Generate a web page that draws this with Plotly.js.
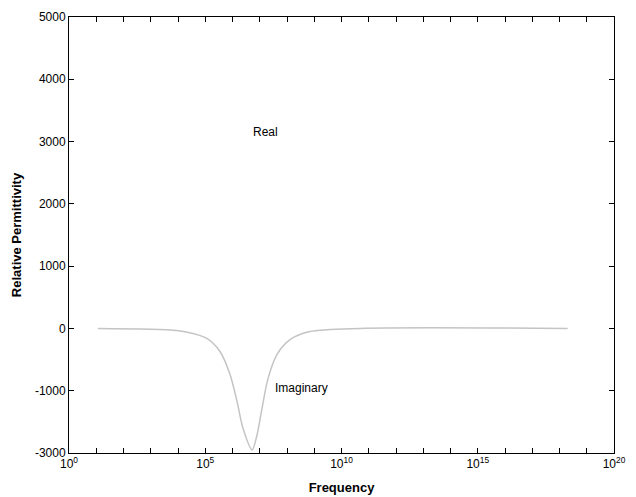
<!DOCTYPE html>
<html>
<head>
<meta charset="utf-8">
<script src="https://cdn.plot.ly/plotly-3.0.1.min.js"></script>
<style>html,body{margin:0;padding:0;background:#fff;}#chart{width:636px;height:497px;}</style>
</head>
<body>
<div id="chart"></div>
<script>
// Imaginary part: log10(frequency) and relative permittivity values
const logFreq = [1.06, 3.96, 4.55, 5.06, 5.54, 5.91, 6.17, 6.39, 6.72, 6.90, 7.08, 7.30, 7.63, 8.11, 8.84, 10.68, 18.3];
const imagPerm = [0, -32, -80, -160, -370, -740, -1180, -1610, -1950, -1710, -1290, -810, -420, -180, -50, 0, 0];

const xMajorExps = [0, 5, 10, 15, 20];
const xMajorLabels = ['10<sup>0</sup>', '10<sup>5</sup>', '10<sup>10</sup>', '10<sup>15</sup>', '10<sup>20</sup>'];
const xMinorExps = [1,2,3,4,6,7,8,9,11,12,13,14,16,17,18,19];
const yTickVals = [-2000,-1000,0,1000,2000,3000,4000,5000];
const yTickText = ['-3000','-1000','0','1000','2000','3000','4000','5000'];

const freq = logFreq.map(e => Math.pow(10, e));

const traces = [{
  x: freq, y: imagPerm, type: 'scatter', mode: 'lines',
  line: {color: '#c4c4c4', width: 1.5, shape: 'spline', smoothing: 0.8},
  name: 'Imaginary', hoverinfo: 'skip'
}];

const font = {family: 'Liberation Sans, Arial, sans-serif', size: 12, color: '#000'};
const titleFont = {family: 'Liberation Sans, Arial, sans-serif', size: 13, color: '#000', weight: 'bold'};

const layout = {
  width: 636, height: 497,
  margin: {l: 69, r: 22, t: 17, b: 44},
  paper_bgcolor: '#fff', plot_bgcolor: '#fff',
  showlegend: false,
  font: font,
  xaxis: {
    type: 'log', range: [0, 20],
    tickmode: 'array',
    tickvals: xMajorExps.map(e => Math.pow(10, e)),
    ticktext: xMajorLabels,
    ticks: 'inside', ticklen: 5, tickcolor: '#000',
    minor: {tickmode: 'array', tickvals: xMinorExps.map(e => Math.pow(10, e)), ticks: 'inside', ticklen: 5, tickcolor: '#000', showgrid: false},
    showline: true, linecolor: '#000', linewidth: 1, mirror: 'ticks',
    showgrid: false, zeroline: false, automargin: false,
    tickfont: font,
    title: {text: 'Frequency', font: titleFont, standoff: 12}
  },
  yaxis: {
    range: [-2000, 5000],
    tickmode: 'array', tickvals: yTickVals, ticktext: yTickText,
    ticks: 'inside', ticklen: 5, tickcolor: '#000',
    showline: true, linecolor: '#000', linewidth: 1, mirror: 'ticks',
    showgrid: false, zeroline: false, automargin: false,
    tickfont: font,
    title: {text: 'Relative Permittivity', font: titleFont, standoff: 10}
  },
  annotations: [
    {x: 7.2, y: 3150, xref: 'x', yref: 'y', text: 'Real', showarrow: false, font: font, xanchor: 'center'},
    {x: 7.5, y: -950, xref: 'x', yref: 'y', text: 'Imaginary', showarrow: false, font: font, xanchor: 'left'}
  ]
};

Plotly.newPlot('chart', traces, layout, {displayModeBar: false, staticPlot: true});
</script>
</body>
</html>
